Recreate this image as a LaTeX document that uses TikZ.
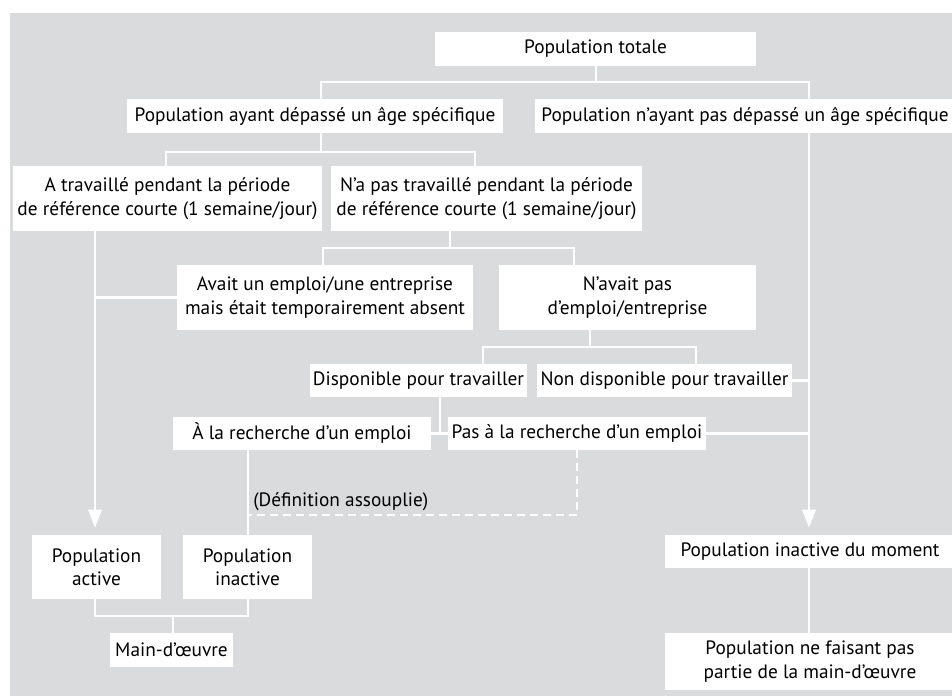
\documentclass[tikz,border=0pt]{standalone}
\usepackage{fontspec}
\setmainfont{PT Sans}
\usetikzlibrary{arrows.meta,calc}
\definecolor{bg}{RGB}{218,219,221}
\begin{document}
\begin{tikzpicture}[x=0.75pt,y=-0.75pt,
  box/.style={fill=white,inner sep=0pt,align=center,font=\fontsize{14.5}{17.5}\selectfont},
  conn/.style={draw=white,line width=1.6pt},
  arr/.style={conn,-{Triangle[width=10pt,length=13.5pt]},shorten >=5.25pt},
  dconn/.style={conn,dash pattern=on 6pt off 3.75pt}]
\useasboundingbox (0,0) rectangle (952,696);
\fill[bg] (10,13) rectangle (952,696);
% nodes
\node[box,minimum width=240.75pt,minimum height=25.5pt] (tot) at (595.5,49) {Population totale};
\node[box,minimum width=282pt,minimum height=25.5pt] (ayant) at (315,116) {Population ayant dépassé un âge spécifique};
\node[box,minimum width=315pt,minimum height=25.5pt] (nayant) at (745,116) {Population n’ayant pas dépassé un âge spécifique};
\node[box,minimum width=231.75pt,minimum height=48.75pt] (trav) at (167.5,198.5) {A travaillé pendant la période\\de référence courte (1 semaine/jour)};
\node[box,minimum width=233.25pt,minimum height=48.75pt] (ntrav) at (486.5,198.5) {N’a pas travaillé pendant la période\\de référence courte (1 semaine/jour)};
\node[box,minimum width=222pt,minimum height=48.75pt] (avait) at (325,297.5) {Avait un emploi/une entreprise\\mais était temporairement absent};
\node[box,minimum width=192.75pt,minimum height=48.75pt] (navait) at (627.5,297.5) {N’avait pas\\d’emploi/entreprise};
\node[box,minimum width=162.75pt,minimum height=24.75pt] (dispo) at (418.5,380.5) {Disponible pour travailler};
\node[box,minimum width=191.25pt,minimum height=24.75pt] (ndispo) at (664.5,380.5) {Non disponible pour travailler};
\node[box,minimum width=193.5pt,minimum height=24.75pt] (rech) at (302,433.5) {À la recherche d’un emploi};
\node[box,minimum width=193.5pt,minimum height=24.75pt] (prech) at (577,433.5) {Pas à la recherche d’un emploi};
\node[box,minimum width=96.75pt,minimum height=48pt] (pact) at (96.5,567) {Population\\active};
\node[box,minimum width=96.75pt,minimum height=48pt] (pinact) at (247.5,567) {Population\\inactive};
\node[box,minimum width=92.25pt,minimum height=25.5pt] (main) at (171.5,650) {Main-d’œuvre};
\node[box,minimum width=217.5pt,minimum height=24.75pt] (inmom) at (810,551.5) {Population inactive du moment};
\node[box,minimum width=217.5pt,minimum height=42.75pt] (nefais) at (810,661.5) {Population ne faisant pas\\partie de la main-d’œuvre};
\node[anchor=west,inner sep=0pt,font=\fontsize{14.5}{17.5}\selectfont] (defas) at (253,502) {(Définition assouplie)};
% x positions of long verticals
\coordinate (xr) at (809,0);
\coordinate (xl) at (95,0);
\coordinate (xi) at (248,0);
% junctions
\coordinate (j1) at (596,82);
\coordinate (j2) at (321,152);
\coordinate (j3) at (450,248);
\coordinate (j4) at (590,347);
\coordinate (j5) at (440,433.5);
\coordinate (j6) at (577,515);
\coordinate (j7) at (173,616);
% connectors
\draw[conn] (tot.south -| j1) -- (j1);
\draw[conn] ($(ayant.north)+(6,0)$) |- (j1) -| (nayant.north -| xr);
\draw[conn] (ayant.south -| j2) -- (j2);
\draw[conn] ($(trav.north)+(-1.5,0)$) |- (j2) -| ($(ntrav.north)+(-11.5,0)$);
\draw[conn] (ntrav.south -| j3) -- (j3);
\draw[conn] ($(avait.north)+(-2,0)$) |- (j3) -| ($(navait.north)+(-53.5,0)$);
\draw[conn] (navait.south -| j4) -- (j4);
\draw[conn] ($(dispo.north)+(64.5,0)$) |- (j4) -| ($(ndispo.north)+(31.5,0)$);
\draw[conn] (dispo.south -| j5) -- (j5);
\draw[conn] (rech.east) -- (prech.west);
\draw[arr] (nayant.south -| xr) -- (inmom.north -| xr);
\draw[conn] (ndispo.east) -- (ndispo.east -| xr);
\draw[conn] (prech.east) -- (prech.east -| xr);
\draw[conn] (inmom.south -| xr) -- (nefais.north -| xr);
\draw[arr] (trav.south -| xl) -- (pact.north -| xl);
\draw[conn] (avait.west) -- (avait.west -| xl);
\draw[conn] (rech.south -| xi) -- (pinact.north -| xi);
\draw[dconn] (prech.south) -- (j6) -- (j6 -| xi);
\draw[conn] (pact.south -| xl) |- (j7) -| (pinact.south -| xi);
\draw[conn] (j7) -- (main.north -| j7);
\end{tikzpicture}
\end{document}
